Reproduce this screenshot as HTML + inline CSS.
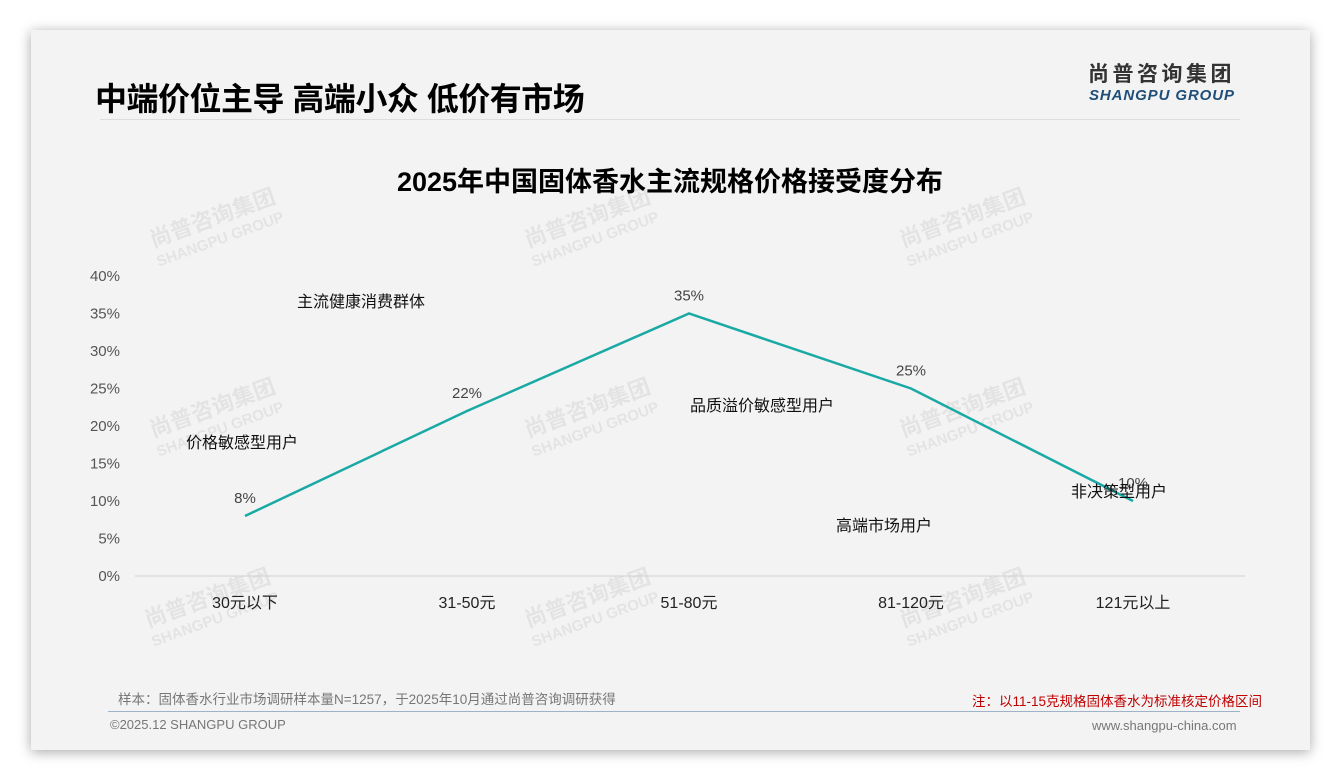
<!DOCTYPE html>
<html><head><meta charset="utf-8"><style>
body{margin:0;width:1340px;height:780px;background:#fff;font-family:"Liberation Sans","Noto Sans CJK SC",sans-serif;overflow:hidden;position:relative}
.card{position:absolute;left:31px;top:30px;width:1279px;height:720px;background:#f3f3f3;box-shadow:0 2px 12px rgba(0,0,0,.35)}
.abs{position:absolute;white-space:nowrap}
</style></head><body>
<div class="card"></div>
<div class="abs" style="left:95px;top:74px;font-size:32px;font-weight:bold;color:#000;letter-spacing:-0.5px">中端价位主导 高端小众 低价有市场</div>
<div class="abs" style="left:1088px;top:61px;font-size:21px;line-height:28px;font-weight:bold;color:#333;letter-spacing:3.5px">尚普咨询集团</div>
<div class="abs" style="left:1089px;top:87px;font-size:15px;line-height:17px;font-weight:bold;font-style:italic;color:#1f4e79;letter-spacing:0.9px">SHANGPU GROUP</div>
<div class="abs" style="left:100px;top:119px;width:1140px;height:1px;background:#ddd"></div>
<div class="abs" style="left:0;width:1340px;text-align:center;top:160px;font-size:27px;font-weight:bold;color:#000">2025年中国固体香水主流规格价格接受度分布</div>
<svg id="chart" width="1340" height="780" style="position:absolute;left:0;top:0"></svg>
<div class="abs" style="left:118px;top:688px;font-size:13.5px;color:#777">样本：固体香水行业市场调研样本量N=1257，于2025年10月通过尚普咨询调研获得</div>
<div class="abs" style="left:972px;top:690px;font-size:13.5px;color:#c00000">注：以11-15克规格固体香水为标准核定价格区间</div>
<div class="abs" style="left:108px;top:711px;width:1132px;height:1px;background:#9fb3c8"></div>
<div class="abs" style="left:110px;top:717px;font-size:13px;color:#777">©2025.12 SHANGPU GROUP</div>
<div class="abs" style="left:1092px;top:718px;font-size:13px;color:#777">www.shangpu-china.com</div>
<script>
const categories=["30元以下","31-50元","51-80元","81-120元","121元以上"];
const values=[8,22,35,25,10];
const yTicks=[0,5,10,15,20,25,30,35,40];
const annotations=[["主流健康消费群体",361,301],["价格敏感型用户",242,442],["品质溢价敏感型用户",762,405],["高端市场用户",884,525],["非决策型用户",1119,491]];
const NS="http://www.w3.org/2000/svg";
const svg=document.getElementById('chart');
const x0=245,dx=222,y0=576,py=7.5;
const X=i=>x0+i*dx, Y=v=>y0-v*py;
function mk(t,a,txt){const e=document.createElementNS(NS,t);for(const k in a)e.setAttribute(k,a[k]);if(txt!=null)e.textContent=txt;svg.appendChild(e);return e;}
[[215,225],[590,225],[965,225],[215,415],[590,415],[965,415],[210,605],[590,605],[965,605]].forEach(p=>{
 const g=document.createElementNS(NS,'g');g.setAttribute('transform',`translate(${p[0]},${p[1]}) rotate(-20)`);g.setAttribute('opacity','0.06');
 
 const t1=document.createElementNS(NS,'text');t1.setAttribute('text-anchor','middle');t1.setAttribute('font-size','22');t1.setAttribute('font-weight','bold');t1.textContent='尚普咨询集团';
 const t2=document.createElementNS(NS,'text');t2.setAttribute('text-anchor','middle');t2.setAttribute('y','20');t2.setAttribute('font-size','15');t2.setAttribute('font-weight','bold');t2.textContent='SHANGPU GROUP';
 g.appendChild(t1);g.appendChild(t2);svg.appendChild(g);});
const ax=mk('line',{x1:135,x2:1245,y1:y0,y2:y0,stroke:'#d0d0d0','stroke-width':1});


yTicks.forEach(v=>{const t=mk('text',{x:120,y:Y(v)+5,'text-anchor':'end','font-size':15,fill:'#555'},v+'%');
 
 });
categories.forEach((c,i)=>{const t=mk('text',{x:X(i),y:608,'text-anchor':'middle','font-size':16,fill:'#222'},c);
 
 });
const line=mk('polyline',{points:values.map((v,i)=>X(i)+','+Y(v)).join(' '),fill:'none',stroke:'#1aa9a5','stroke-width':2.5});


values.forEach((v,i)=>{const t=mk('text',{x:X(i),y:Y(v)-13,'text-anchor':'middle','font-size':15,fill:'#444'},v+'%');
 
 });
annotations.forEach(a=>{const t=mk('text',{x:a[1],y:a[2]+6,'text-anchor':'middle','font-size':16,fill:'#111'},a[0]);
 
 });
</script>
</body></html>
